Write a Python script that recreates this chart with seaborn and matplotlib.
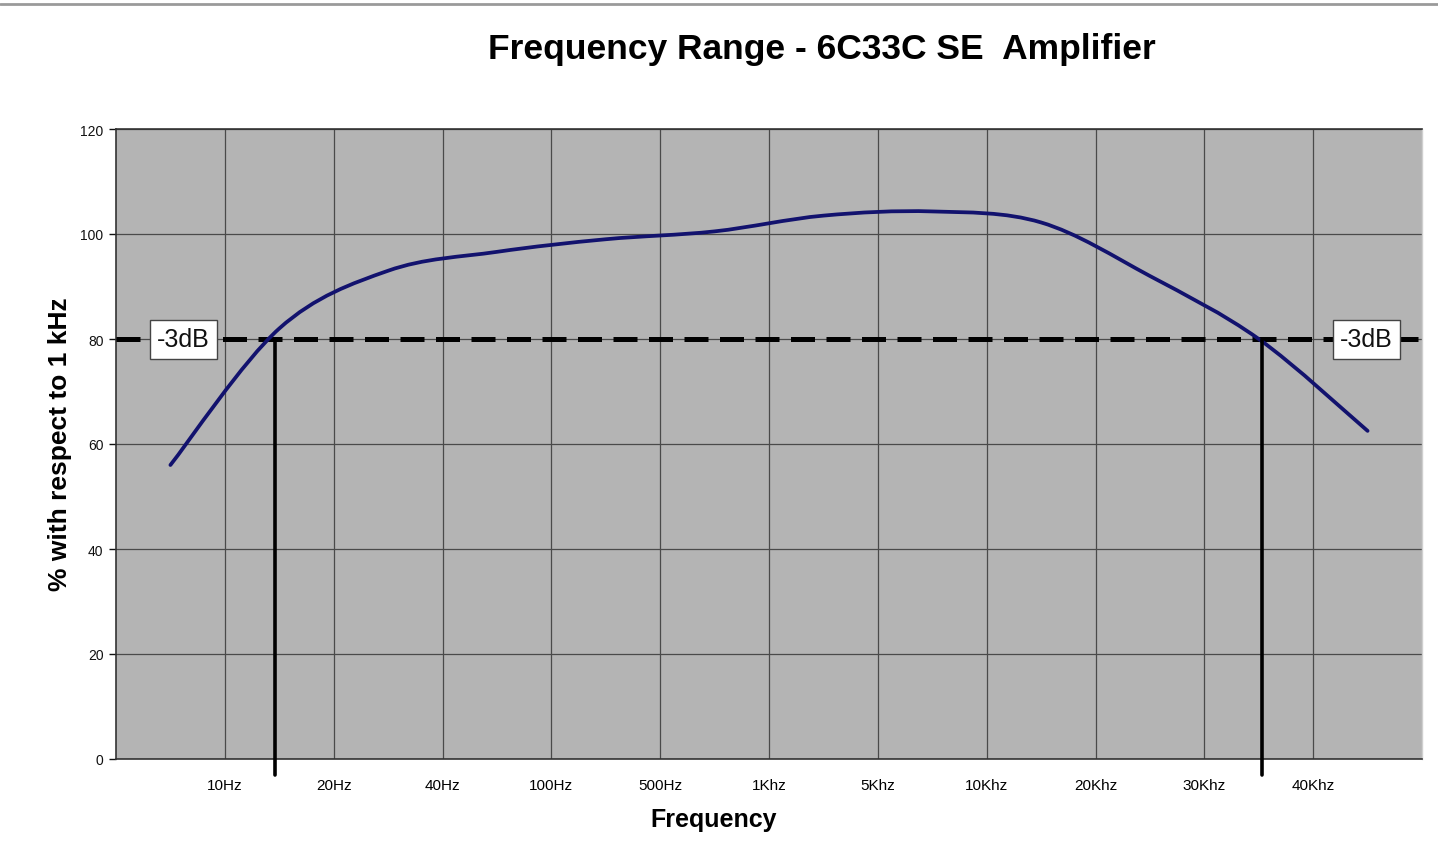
import matplotlib
matplotlib.use("Agg")
import matplotlib.pyplot as plt
from matplotlib.path import Path
from matplotlib.patches import PathPatch
from matplotlib.lines import Line2D
import seaborn as sns

# ==========================================
# DATA
# ==========================================

freq_labels = ["10Hz", "20Hz", "40Hz", "100Hz", "500Hz", "1Khz",
               "5Khz", "10Khz", "20Khz", "30Khz", "40Khz"]
label_pos = [1, 2, 3, 4, 5, 6, 7, 8, 9, 10, 11]

# measured points sit halfway between the labelled gridlines
point_pos = [0.5, 1.5, 2.5, 3.5, 4.5, 5.5, 6.5, 7.5, 8.5, 9.5, 10.5, 11.5]
response = [56.0, 82.0, 93.0, 96.6, 99.0, 100.5, 103.5, 104.3, 102.2, 92.0, 80.0, 62.5]

level_3db = 80
cutoff_low = 1.46
cutoff_high = 10.53

# ==========================================
# STYLE
# ==========================================

sns.set_theme(style="white")
plt.rcParams["font.family"] = ["Liberation Sans", "DejaVu Sans"]
plt.rcParams["text.color"] = "black"

fig = plt.figure(figsize=(14.38, 8.62), dpi=100)
ax = fig.add_axes([116 / 1438, 1 - 760 / 862, 1306 / 1438, 630 / 862])
ax.set_facecolor("#b4b4b4")

ax.set_xlim(0, 12)
ax.set_ylim(0, 120)
ax.set_xticks(label_pos)
ax.set_xticklabels(freq_labels, fontsize=11)
ax.set_yticks(range(0, 121, 20))
ax.tick_params(axis="x", length=0, pad=14, colors="black")
ax.tick_params(axis="y", length=5, width=1, pad=4, labelsize=10,
               colors="#111111", direction="out", left=True)
ax.grid(True, color="#4a4a4a", linewidth=0.9)
ax.set_axisbelow(True)

for side in ["left", "bottom", "top"]:
    ax.spines[side].set_color("#333333")
    ax.spines[side].set_linewidth(1.2)
ax.spines["right"].set_color("#cfcfcf")
ax.spines["right"].set_linewidth(1.0)

# ==========================================
# SMOOTHED RESPONSE CURVE (Catmull-Rom as Bezier)
# ==========================================

verts = [(point_pos[0], response[0])]
codes = [Path.MOVETO]
n = len(point_pos)
for i in range(n - 1):
    x0, y0 = point_pos[max(i - 1, 0)], response[max(i - 1, 0)]
    x1, y1 = point_pos[i], response[i]
    x2, y2 = point_pos[i + 1], response[i + 1]
    x3, y3 = point_pos[min(i + 2, n - 1)], response[min(i + 2, n - 1)]
    c1 = (x1 + (x2 - x0) / 6, y1 + (y2 - y0) / 6)
    c2 = (x2 - (x3 - x1) / 6, y2 - (y3 - y1) / 6)
    verts += [c1, c2, (x2, y2)]
    codes += [Path.CURVE4] * 3

curve = PathPatch(Path(verts, codes), fill=False, edgecolor="#12126e",
                  linewidth=2.7, capstyle="round", zorder=4)
ax.add_patch(curve)

# ==========================================
# -3dB MARKERS
# ==========================================

ax.axhline(level_3db, color="black", linewidth=3.6,
           linestyle=(0, (4.8, 2.3)), zorder=3)

for xc in [cutoff_low, cutoff_high]:
    ax.plot([xc, xc], [level_3db, -3], color="black", linewidth=2.6,
            clip_on=False, zorder=5)

box = dict(boxstyle="square,pad=0.3", facecolor="white",
           edgecolor="#444444", linewidth=1)
ax.text(0.62, level_3db, "-3dB", fontsize=18, ha="center", va="center",
        bbox=box, zorder=6, color="#111111")
ax.text(11.49, level_3db, "-3dB", fontsize=18, ha="center", va="center",
        bbox=box, zorder=6, color="#111111")

# ==========================================
# TITLES
# ==========================================

fig.text(822 / 1438, 1 - 49 / 862, "Frequency Range - 6C33C SE  Amplifier",
         ha="center", va="center", fontsize=25.5, fontweight="bold")
fig.text(60 / 1438, 1 - 444 / 862, "% with respect to 1 kHz",
         ha="center", va="center", rotation=90, fontsize=19, fontweight="bold")
fig.text(714 / 1438, 1 - 820 / 862, "Frequency",
         ha="center", va="center", fontsize=18, fontweight="bold")

# thin frame line along the top of the image
fig.add_artist(Line2D([0, 1], [1 - 5 / 862, 1 - 5 / 862],
                      transform=fig.transFigure, color="#9a9a9a", linewidth=2))

fig.savefig("out.png", dpi=100, facecolor="white")
